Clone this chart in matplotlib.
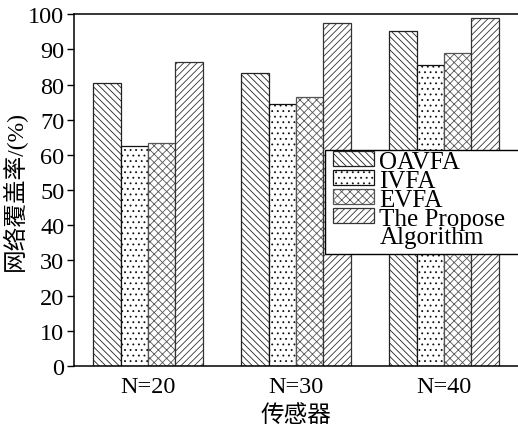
import numpy as np
import matplotlib
matplotlib.use("Agg")
import matplotlib.pyplot as plt
from matplotlib.patches import Rectangle

plt.rcParams['font.family'] = ['Liberation Serif', 'Noto Sans CJK SC']
plt.rcParams['hatch.linewidth'] = 0.6

groups = ["N=20", "N=30", "N=40"]
oavfa = [80.3, 83.2, 95.3]
ivfa = [62.4, 74.5, 85.6]
evfa = [63.3, 76.5, 88.9]
proposed = [86.3, 97.6, 99.0]
series_names = ["OAVFA", "IVFA", "EVFA", "The Propose"]

fig = plt.figure(figsize=(5.18, 4.27), dpi=100)
ax = fig.add_axes([0.143, 0.1405, 0.857, 0.824])

x = np.arange(len(groups))
w = 0.185
series = [oavfa, ivfa, evfa, proposed]
hatches = ['\\\\\\\\\\', '...', 'xxxx', '/////']
edges = ['#222222', '#111111', '#555555', '#333333']
bars = []
for i, (vals, h, ec, name) in enumerate(zip(series, hatches, edges, series_names)):
    b = ax.bar(x + (i - 1.5) * w, vals, w, facecolor='white', edgecolor=ec,
               hatch=h, linewidth=0.9, label=name)
    bars.append(b)

ax.set_xlim(-0.5, 2.5)
ax.set_ylim(0, 100)
ax.set_yticks(np.arange(0, 101, 10))
ax.set_xticks(x)
ax.set_xticklabels(groups)
ax.tick_params(axis='y', direction='out', length=5, width=1, labelsize=17.5, pad=2)
ax.tick_params(axis='x', length=0, labelsize=17.5, pad=7)
ax.spines['right'].set_visible(False)
for s in ['left', 'bottom', 'top']:
    ax.spines[s].set_linewidth(1.1)

ax.set_ylabel("网络覆盖率/(%)", fontsize=17, labelpad=1)
ax.set_xlabel("传感器", fontsize=17, labelpad=5)

# legend frame (extends past the right edge like the reference)
frame = Rectangle((0.627, 0.403), 0.4, 0.2436, transform=fig.transFigure,
                  facecolor='white', edgecolor='black', linewidth=1.0, zorder=1)
fig.patches.append(frame)

leg = fig.legend(handles=bars, labels=series_names, loc='upper left',
                 bbox_to_anchor=(0.643, 0.645), borderaxespad=0, borderpad=0,
                 fontsize=18, frameon=False,
                 handlelength=1.65, handleheight=0.55, handletextpad=0.2,
                 labelspacing=-0.12)
leg.set_zorder(5)

fig.canvas.draw()
last = leg.get_texts()[-1]
bb = last.get_window_extent()
fig.text(bb.x0 / fig.bbox.width, (bb.y0 - 18) / fig.bbox.height, "Algorithm",
         fontsize=18, ha='left', va='bottom', zorder=6)

fig.savefig("out.png", dpi=100)
